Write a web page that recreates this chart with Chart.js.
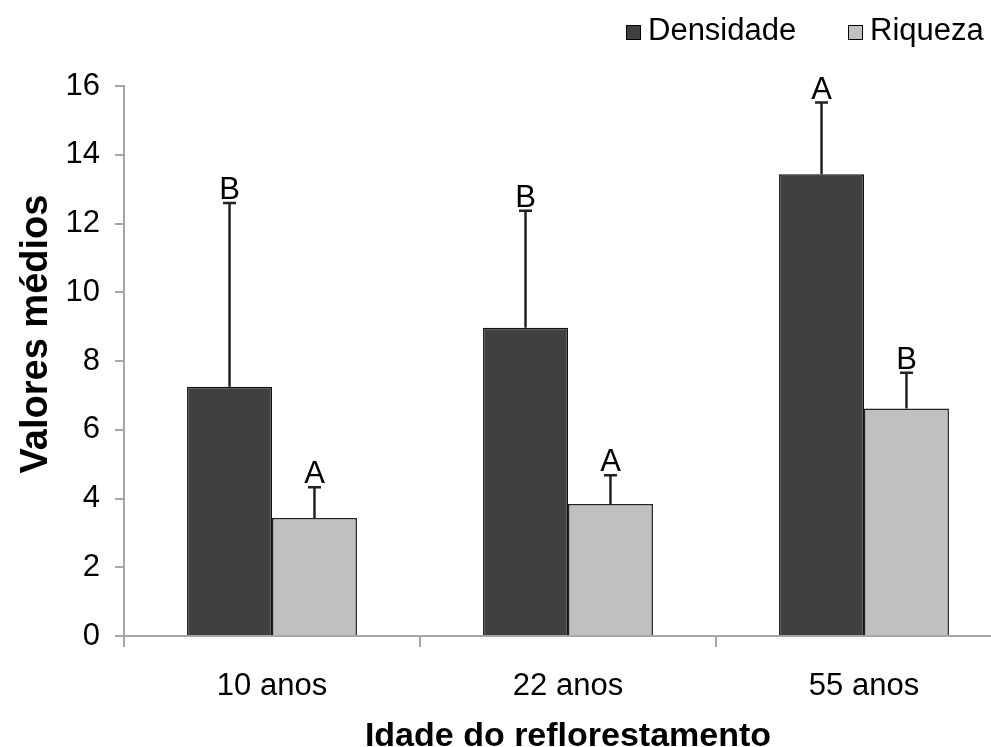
<!DOCTYPE html>
<html>
<head>
<meta charset="utf-8">
<script src="https://cdn.jsdelivr.net/npm/chart.js@4/dist/chart.umd.min.js"></script>
<style>
  html, body { margin: 0; padding: 0; background: #fff; overflow: hidden; }
  #wrap { width: 991px; height: 747px; overflow: hidden; }
  canvas { display: block; }
</style>
</head>
<body>
<div id="wrap"><canvas id="c" width="1013" height="747"></canvas></div>
<script>
// Reforestation age groups
const categories = ['10 anos', '22 anos', '55 anos'];

// Mean values per group
const densidade = [7.25, 8.97, 13.43];
const riqueza = [3.43, 3.84, 6.62];

// Standard deviations (drawn upward only)
const densidadeSD = [5.35, 3.40, 2.09];
const riquezaSD = [0.90, 0.84, 1.04];

// Significance letters above each error bar
const densidadeLetters = ['B', 'B', 'A'];
const riquezaLetters = ['A', 'A', 'B'];

const seriesNames = ['Densidade', 'Riqueza'];
const yTicks = { min: 0, max: 16, step: 2 };

const xTitle = 'Idade do reflorestamento';
const yTitle = 'Valores médios';

const FONT = '"Liberation Sans", Arial, sans-serif';
const DARK = '#404040';
const LIGHT = '#c0c0c0';
const AXIS = '#a6a6a6';

const sdBySet = [densidadeSD, riquezaSD];
const lettersBySet = [densidadeLetters, riquezaLetters];

const annotations = {
  id: 'annotations',
  afterDatasetsDraw(chart) {
    const ctx = chart.ctx;
    const y = chart.scales.y;
    chart.data.datasets.forEach((ds, di) => {
      const meta = chart.getDatasetMeta(di);
      meta.data.forEach((bar, i) => {
        const top = y.getPixelForValue(ds.data[i] + sdBySet[di][i]);
        ctx.save();
        ctx.strokeStyle = '#222';
        ctx.lineWidth = 2.5;
        ctx.beginPath();
        ctx.moveTo(bar.x, bar.y);
        ctx.lineTo(bar.x, top);
        ctx.moveTo(bar.x - 6.5, top);
        ctx.lineTo(bar.x + 6.5, top);
        ctx.stroke();
        ctx.fillStyle = '#000';
        ctx.font = '31px ' + FONT;
        ctx.textAlign = 'center';
        ctx.textBaseline = 'alphabetic';
        ctx.fillText(lettersBySet[di][i], bar.x, top - 4);
        ctx.restore();
      });
    });
  },
  afterDraw(chart) {
    const ctx = chart.ctx;
    const area = chart.chartArea;
    ctx.save();
    // Legend
    const legend = [
      { x: 626, color: DARK, text: seriesNames[0] },
      { x: 848, color: LIGHT, text: seriesNames[1] }
    ];
    ctx.font = '31px ' + FONT;
    ctx.textAlign = 'left';
    ctx.textBaseline = 'alphabetic';
    legend.forEach(item => {
      ctx.fillStyle = item.color;
      ctx.fillRect(item.x, 25, 15, 15);
      ctx.strokeStyle = '#000';
      ctx.lineWidth = 1;
      ctx.strokeRect(item.x + 0.5, 25.5, 14, 14);
      ctx.fillStyle = '#000';
      ctx.fillText(item.text, item.x + 22, 40);
    });
    // Axis titles
    ctx.font = 'bold 34px ' + FONT;
    ctx.textAlign = 'center';
    ctx.fillText(xTitle, (area.left + area.right) / 2, 746);
    ctx.translate(47, 334);
    ctx.rotate(-Math.PI / 2);
    ctx.font = 'bold 38px ' + FONT;
    ctx.fillText(yTitle, 0, 0);
    ctx.restore();
  }
};

new Chart(document.getElementById('c'), {
  type: 'bar',
  data: {
    labels: categories,
    datasets: [
      {
        label: seriesNames[0],
        data: densidade,
        backgroundColor: DARK,
        borderColor: '#111',
        borderWidth: 1.5,
        categoryPercentage: 0.574,
        barPercentage: 1
      },
      {
        label: seriesNames[1],
        data: riqueza,
        backgroundColor: LIGHT,
        borderColor: '#222',
        borderWidth: 1.5,
        categoryPercentage: 0.574,
        barPercentage: 1
      }
    ]
  },
  options: {
    responsive: false,
    animation: false,
    devicePixelRatio: 1,
    layout: { padding: { top: 86, left: 0, right: 1, bottom: 0 } },
    plugins: {
      legend: { display: false },
      tooltip: { enabled: false }
    },
    scales: {
      x: {
        grid: {
          offset: true,
          drawOnChartArea: false,
          drawTicks: true,
          tickLength: 11,
          color: AXIS,
          lineWidth: 2
        },
        border: { color: AXIS, width: 2 },
        ticks: {
          color: '#000',
          font: { family: FONT, size: 31 },
          padding: 21,
          maxRotation: 0
        },
        afterFit(scale) { scale.height = 111; }
      },
      y: {
        min: yTicks.min,
        max: yTicks.max,
        grid: {
          drawOnChartArea: false,
          drawTicks: true,
          tickLength: 9,
          color: AXIS,
          lineWidth: 2
        },
        border: { color: AXIS, width: 2 },
        ticks: {
          stepSize: yTicks.step,
          color: '#000',
          font: { family: FONT, size: 31 },
          padding: 15
        },
        afterFit(scale) { scale.width = 124; }
      }
    }
  },
  plugins: [annotations]
});
</script>
</body>
</html>
